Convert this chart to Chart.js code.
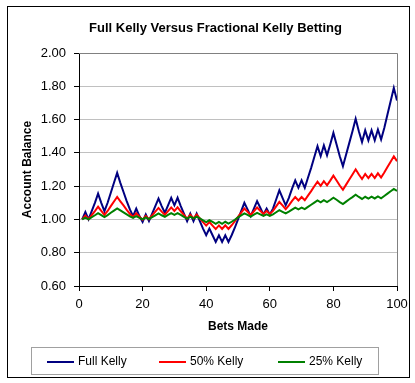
<!DOCTYPE html>
<html>
<head>
<meta charset="utf-8">
<script src="https://cdn.jsdelivr.net/npm/chart.js@4.4.1/dist/chart.umd.min.js"></script>
<style>
  html, body { margin: 0; padding: 0; background: #fff; }
</style>
</head>
<body>
<canvas id="kellyChart" width="415" height="383"></canvas>
<script>
// bet number 1..100 on the x axis
const betsMade = Array.from({ length: 100 }, (_, i) => i + 1);

const seriesNames = ['Full Kelly', '50% Kelly', '25% Kelly'];

const fullKelly = [
  1.000, 1.045, 1.000, 1.050, 1.100, 1.155, 1.100, 1.050, 1.100, 1.160,
  1.220, 1.280, 1.220, 1.165, 1.110, 1.060, 1.020, 1.065, 1.020, 0.985,
  1.030, 0.990, 1.035, 1.080, 1.125, 1.080, 1.040, 1.085, 1.130, 1.085,
  1.130, 1.080, 1.035, 0.990, 1.035, 0.990, 1.035, 0.990, 0.945, 0.905,
  0.945, 0.905, 0.865, 0.905, 0.865, 0.905, 0.865, 0.905, 0.950, 1.000,
  1.050, 1.100, 1.060, 1.020, 1.065, 1.110, 1.070, 1.030, 1.065, 1.030,
  1.065, 1.120, 1.175, 1.130, 1.085, 1.130, 1.185, 1.235, 1.190, 1.235,
  1.190, 1.250, 1.310, 1.375, 1.440, 1.380, 1.445, 1.385, 1.450, 1.520,
  1.450, 1.380, 1.320, 1.390, 1.460, 1.530, 1.605, 1.530, 1.465, 1.535,
  1.475, 1.535, 1.475, 1.540, 1.480, 1.550, 1.630, 1.710, 1.790, 1.715
];

const halfKelly = [
  1.000, 1.023, 1.001, 1.026, 1.050, 1.076, 1.051, 1.027, 1.051, 1.080,
  1.108, 1.135, 1.109, 1.084, 1.058, 1.034, 1.015, 1.037, 1.016, 0.998,
  1.021, 1.001, 1.024, 1.047, 1.069, 1.047, 1.028, 1.050, 1.072, 1.051,
  1.073, 1.049, 1.027, 1.005, 1.028, 1.006, 1.029, 1.006, 0.984, 0.963,
  0.984, 0.963, 0.942, 0.964, 0.943, 0.965, 0.943, 0.965, 0.989, 1.015,
  1.041, 1.065, 1.046, 1.027, 1.049, 1.072, 1.052, 1.033, 1.051, 1.033,
  1.051, 1.078, 1.105, 1.084, 1.062, 1.084, 1.111, 1.134, 1.114, 1.135,
  1.115, 1.143, 1.170, 1.199, 1.227, 1.202, 1.230, 1.205, 1.233, 1.263,
  1.234, 1.204, 1.178, 1.209, 1.240, 1.270, 1.301, 1.270, 1.243, 1.273,
  1.248, 1.274, 1.249, 1.277, 1.252, 1.282, 1.315, 1.347, 1.379, 1.350
];

const quarterKelly = [
  1.000, 1.011, 1.000, 1.013, 1.025, 1.038, 1.026, 1.014, 1.026, 1.040,
  1.053, 1.066, 1.054, 1.042, 1.030, 1.018, 1.009, 1.020, 1.009, 1.001,
  1.012, 1.002, 1.014, 1.025, 1.036, 1.025, 1.016, 1.027, 1.038, 1.028,
  1.038, 1.027, 1.016, 1.005, 1.017, 1.006, 1.017, 1.006, 0.995, 0.984,
  0.995, 0.985, 0.974, 0.985, 0.974, 0.986, 0.975, 0.986, 0.998, 1.012,
  1.024, 1.036, 1.027, 1.017, 1.029, 1.040, 1.030, 1.021, 1.030, 1.021,
  1.030, 1.043, 1.056, 1.046, 1.036, 1.047, 1.059, 1.071, 1.061, 1.071,
  1.062, 1.075, 1.088, 1.101, 1.114, 1.103, 1.116, 1.104, 1.117, 1.131,
  1.118, 1.104, 1.092, 1.107, 1.121, 1.134, 1.148, 1.135, 1.123, 1.136,
  1.125, 1.137, 1.126, 1.138, 1.127, 1.141, 1.155, 1.169, 1.183, 1.171
];

const FONT = '"Liberation Sans", Arial, sans-serif';
Chart.defaults.font.family = FONT;
Chart.defaults.color = '#000';

function toPoints(values) {
  return values.map((v, i) => ({ x: betsMade[i], y: v }));
}

// white page, outer black frame and the grey right edge of the plot
const frame = {
  id: 'frame',
  beforeDraw(chart) {
    const ctx = chart.ctx;
    ctx.save();
    ctx.fillStyle = '#fff';
    ctx.fillRect(0, 0, chart.width, chart.height);
    ctx.strokeStyle = '#000';
    ctx.lineWidth = 1;
    ctx.strokeRect(7.5, 6.5, 402, 371);
    ctx.restore();
  },
  beforeDatasetsDraw(chart) {
    const { ctx, chartArea: a } = chart;
    ctx.save();
    ctx.strokeStyle = '#808080';
    ctx.lineWidth = 1;
    ctx.beginPath();
    ctx.moveTo(a.left, a.top + 0.5);
    ctx.lineTo(a.right + 0.5, a.top + 0.5);
    ctx.lineTo(a.right + 0.5, a.bottom);
    ctx.stroke();
    ctx.restore();
  }
};

// excel style boxed legend under the axis
const boxedLegend = {
  id: 'boxedLegend',
  afterDraw(chart) {
    const ctx = chart.ctx;
    const starts = [47, 159, 278];
    const y = 362;
    ctx.save();
    ctx.strokeStyle = '#a0a0a0';
    ctx.lineWidth = 1;
    ctx.strokeRect(31.5, 347.5, 347, 27);
    ctx.font = '12px ' + FONT;
    ctx.textBaseline = 'middle';
    ctx.fillStyle = '#000';
    chart.data.datasets.forEach((ds, i) => {
      ctx.strokeStyle = ds.borderColor;
      ctx.lineWidth = 2;
      ctx.beginPath();
      ctx.moveTo(starts[i], y);
      ctx.lineTo(starts[i] + 27, y);
      ctx.stroke();
      ctx.fillText(ds.label, starts[i] + 31, y);
    });
    ctx.restore();
  }
};

new Chart(document.getElementById('kellyChart'), {
  type: 'line',
  data: {
    datasets: [
      { label: seriesNames[0], data: toPoints(fullKelly), borderColor: '#000080', order: 2 },
      { label: seriesNames[1], data: toPoints(halfKelly), borderColor: '#ff0000', order: 1 },
      { label: seriesNames[2], data: toPoints(quarterKelly), borderColor: '#008000', order: 0 }
    ]
  },
  options: {
    responsive: false,
    animation: false,
    layout: { padding: { left: 34, right: 18, top: 0, bottom: 47 } },
    elements: {
      line: { borderWidth: 2, tension: 0, fill: false },
      point: { radius: 0 }
    },
    plugins: {
      legend: { display: false },
      tooltip: { enabled: false },
      title: {
        display: true,
        text: 'Full Kelly Versus Fractional Kelly Betting',
        color: '#000',
        font: { size: 13, weight: 'bold' },
        padding: { top: 21, bottom: 16.4 }
      }
    },
    scales: {
      x: {
        type: 'linear',
        min: 0,
        max: 100,
        afterFit(scale) { scale.height = 50; },
        ticks: { stepSize: 20, font: { size: 13 }, padding: 6, maxRotation: 0 },
        grid: { drawOnChartArea: false, tickColor: '#000', tickLength: 5 },
        border: { color: '#000' },
        title: {
          display: true,
          text: 'Bets Made',
          font: { size: 12, weight: 'bold' },
          padding: { top: 0, bottom: 2 }
        }
      },
      y: {
        min: 0.6,
        max: 2.0,
        afterFit(scale) { scale.width = 45; },
        ticks: { stepSize: 0.2, font: { size: 13 }, padding: 8, callback: v => v.toFixed(2) },
        grid: { color: '#c0c0c0', tickColor: '#000', tickLength: 5 },
        border: { color: '#000' },
        title: {
          display: true,
          text: 'Account Balance',
          font: { size: 12, weight: 'bold' },
          padding: { top: -14, bottom: 0 }
        }
      }
    }
  },
  plugins: [frame, boxedLegend]
});
</script>
</body>
</html>
